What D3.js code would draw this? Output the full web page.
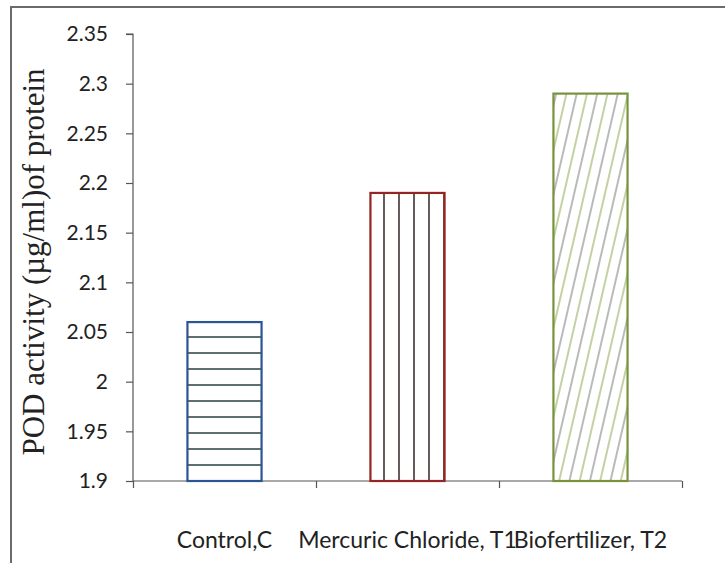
<!DOCTYPE html>
<html>
<head>
<meta charset="utf-8">
<script src="https://cdn.jsdelivr.net/npm/d3@7"></script>
<style>
  body { margin: 0; background: #fff; }
</style>
</head>
<body>
<svg id="chart" width="725" height="563"></svg>
<script>
var categories = ["Control,C", "Mercuric Chloride, T1", "Biofertilizer, T2"];
var podValues = [2.06, 2.19, 2.29];
var yTicks = [1.9, 1.95, 2, 2.05, 2.1, 2.15, 2.2, 2.25, 2.3, 2.35];
var yTickLabels = ["1.9", "1.95", "2", "2.05", "2.1", "2.15", "2.2", "2.25", "2.3", "2.35"];
var barColors = ["#2b5494", "#952424", "#77933c"];
var barPatterns = ["hlines", "vlines", "diag"];

var svg = d3.select('#chart');

// outer frame (only top and left edges show)
svg.append("path")
  .attr("d", "M11,563 V7 H725")
  .style("fill", "none")
  .style("stroke", "#6b6b6b")
  .style("stroke-width", 2);

var defs = svg.append("defs");

var hp = defs.append("pattern")
  .attr("id", "hlines")
  .attr("patternUnits", "userSpaceOnUse")
  .attr("width", 16).attr("height", 16);
hp.append("line")
  .attr("x1", 0).attr("x2", 16).attr("y1", 1).attr("y2", 1)
  .style("stroke", "#5c7070").style("stroke-width", 2);

var vp = defs.append("pattern")
  .attr("id", "vlines")
  .attr("patternUnits", "userSpaceOnUse")
  .attr("width", 15).attr("height", 15);
vp.append("line")
  .attr("x1", 9).attr("x2", 9).attr("y1", 0).attr("y2", 15)
  .style("stroke", "#574848").style("stroke-width", 1.8);

var dp = defs.append("pattern")
  .attr("id", "diag")
  .attr("patternUnits", "userSpaceOnUse")
  .attr("width", 20).attr("height", 20)
  .attr("patternTransform", "rotate(13)");
dp.append("line")
  .attr("x1", 3).attr("x2", 3).attr("y1", 0).attr("y2", 20)
  .style("stroke", "#9c9c9c").style("stroke-width", 1.4);
dp.append("line")
  .attr("x1", 13).attr("x2", 13).attr("y1", 0).attr("y2", 20)
  .style("stroke", "#aabd7c").style("stroke-width", 1.4);

var x = d3.scaleBand()
  .domain(categories)
  .range([133, 682])
  .paddingInner(0)
  .paddingOuter(0);

var y = d3.scaleLinear()
  .domain([1.9, 2.35])
  .range([481, 34]);

var bw = x.bandwidth() * 0.405;

// y axis
var yAxis = svg.append("g")
  .attr("transform", "translate(133,0)")
  .call(d3.axisLeft(y)
    .tickValues(yTicks)
    .tickFormat(function(d, i) { return yTickLabels[i]; })
    .tickSize(7)
    .tickPadding(18));
yAxis.select(".domain").attr("d", "M-7," + y(2.35) + "H0V" + y(1.9));

// x axis
var xAxis = svg.append("g")
  .attr("transform", "translate(0,481)")
  .call(d3.axisBottom(d3.scaleLinear().domain([0, 3]).range([133, 682]))
    .ticks(3)
    .tickFormat("")
    .tickSize(7));
xAxis.select(".domain").attr("d", "M133,0H682");

svg.selectAll(".tick line, .domain")
  .style("stroke", "#555")
  .style("stroke-width", 1.2);

yAxis.selectAll("text")
  .style("font-family", "Lato, sans-serif")
  .style("font-size", "21px")
  .style("fill", "#222");

// bars
svg.selectAll(".bar-bg")
  .data(podValues)
  .enter().append("rect")
  .attr("class", "bar-bg")
  .attr("x", function(d, i) { return x(categories[i]) + (x.bandwidth() - bw) / 2; })
  .attr("y", function(d) { return y(d); })
  .attr("width", bw)
  .attr("height", function(d) { return y(1.9) - y(d); })
  .style("fill", "#fff");

svg.selectAll(".bar")
  .data(podValues)
  .enter().append("rect")
  .attr("class", "bar")
  .attr("x", function(d, i) { return x(categories[i]) + (x.bandwidth() - bw) / 2; })
  .attr("y", function(d) { return y(d); })
  .attr("width", bw)
  .attr("height", function(d) { return y(1.9) - y(d); })
  .style("fill", function(d, i) { return "url(#" + barPatterns[i] + ")"; })
  .style("stroke", function(d, i) { return barColors[i]; })
  .style("stroke-width", 2.2);

// category labels
svg.selectAll(".cat")
  .data(categories)
  .enter().append("text")
  .attr("class", "cat")
  .attr("x", function(d) { return x(d) + x.bandwidth() / 2; })
  .attr("y", 548)
  .attr("text-anchor", "middle")
  .style("font-family", "Lato, sans-serif")
  .style("font-size", "23px")
  .style("fill", "#222")
  .text(function(d) { return d; });

// y title
svg.append("text")
  .attr("transform", "translate(44,262) rotate(-90)")
  .attr("text-anchor", "middle")
  .style("font-family", "'Liberation Serif', 'Times New Roman', serif")
  .style("font-size", "31px")
  .style("fill", "#222")
  .text("POD activity (\u00b5g/ml)of protein");
</script>
</body>
</html>
